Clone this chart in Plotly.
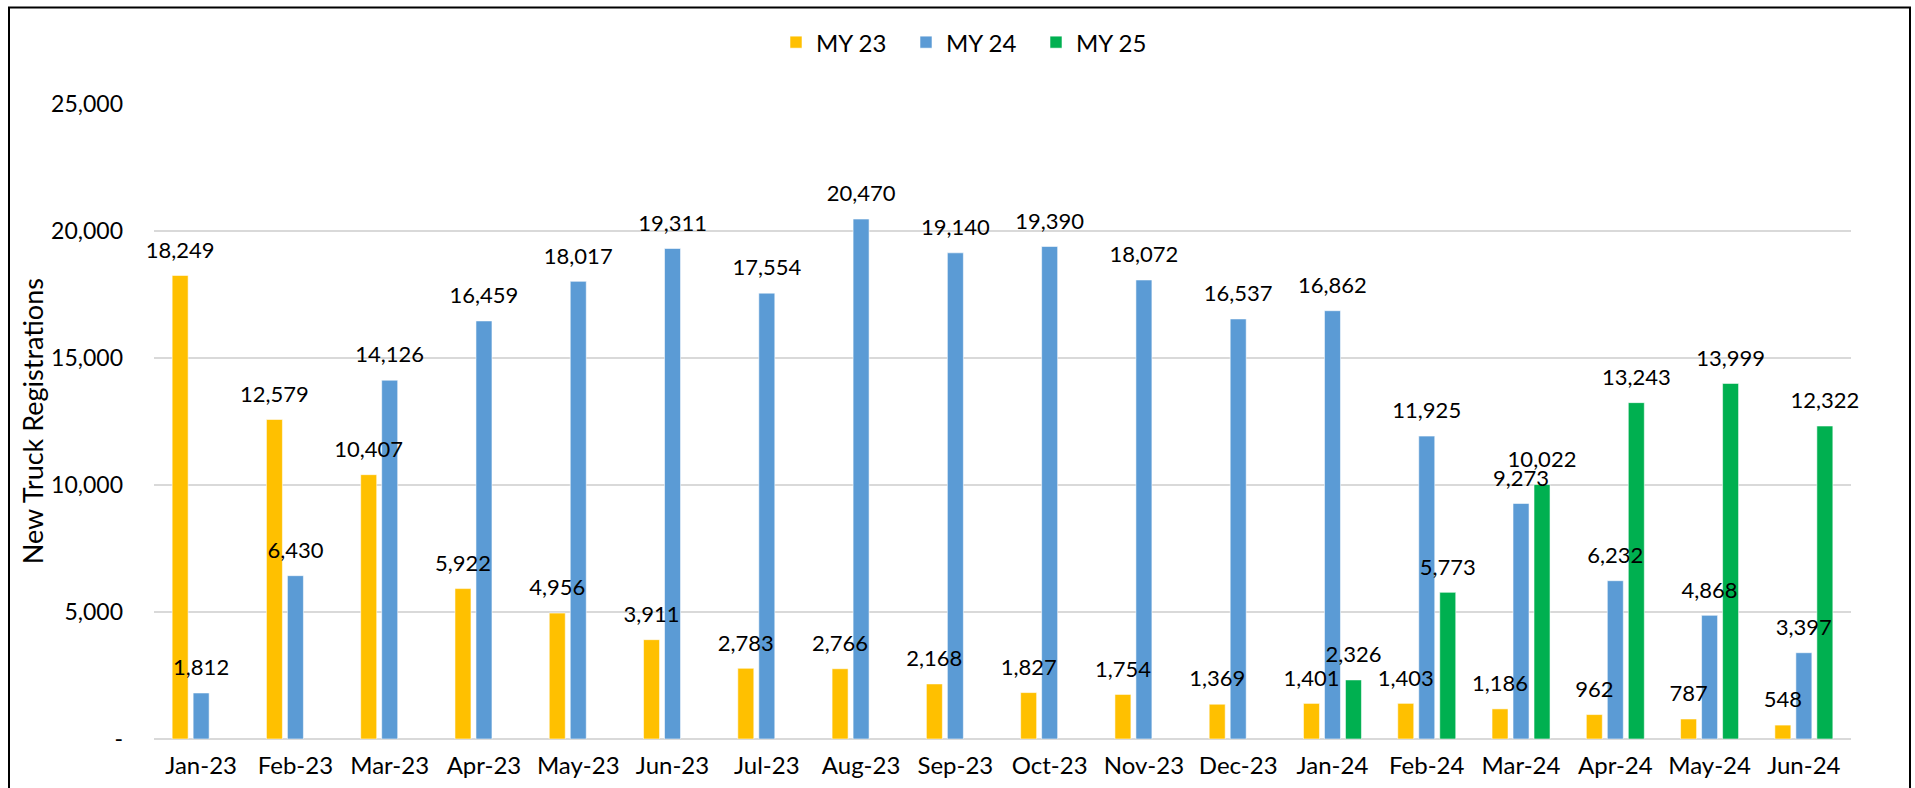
import plotly.graph_objects as go

months = ["Jan-23", "Feb-23", "Mar-23", "Apr-23", "May-23", "Jun-23", "Jul-23", "Aug-23", "Sep-23",
          "Oct-23", "Nov-23", "Dec-23", "Jan-24", "Feb-24", "Mar-24", "Apr-24", "May-24", "Jun-24"]
my23 = [18249, 12579, 10407, 5922, 4956, 3911, 2783, 2766, 2168, 1827, 1754, 1369, 1401, 1403, 1186, 962, 787, 548]
my24 = [1812, 6430, 14126, 16459, 18017, 19311, 17554, 20470, 19140, 19390, 18072, 16537, 16862, 11925, 9273, 6232, 4868, 3397]
my25 = [None] * 12 + [2326, 5773, 10022, 13243, 13999, 12322]
series_names = ["MY 23", "MY 24", "MY 25"]
colors = ["#FFC000", "#5B9BD5", "#00B050"]
y_tickvals = [0, 5000, 10000, 15000, 20000, 25000]
y_ticktext = ["-", "5,000", "10,000", "15,000", "20,000", "25,000"]

FONT = "Lato, 'Open Sans', sans-serif"
FS = 22

fig = go.Figure()
for name, vals, col in zip(series_names, [my23, my24, my25], colors):
    fig.add_trace(go.Bar(x=months, y=vals, name=name, marker_color=col,
                         marker_line=dict(color="rgba(255,255,255,0.55)", width=1),
                         offsetgroup=name))
for name, vals in zip(series_names, [my23, my24, my25]):
    fig.add_trace(go.Scatter(x=months, y=vals, mode="markers+text", showlegend=False,
                             offsetgroup=name, hoverinfo="skip",
                             marker=dict(size=18, opacity=0),
                             text=[None if v is None else f"{v:,}" for v in vals],
                             textposition="top center",
                             textfont=dict(family=FONT, size=FS, color="#000"),
                             cliponaxis=False))

W, H = 1915, 788
L, R, T, B = 154, 1851, 103.5, 739
pw, ph = R - L, B - T

def px_x(x):
    return (x - L) / pw

def px_y(y):
    return (B - y) / ph

fig.update_layout(
    width=W, height=H,
    margin=dict(l=L, r=W - R, t=T, b=H - B, autoexpand=False),
    barmode="group", bargap=0.332, bargroupgap=0.238,
    scattermode="group", scattergap=0.332,
    plot_bgcolor="white", paper_bgcolor="white",
    font=dict(family=FONT, size=FS, color="#000"),
    showlegend=True,
    legend=dict(orientation="h", x=px_x(971), xanchor="center", y=px_y(42), yanchor="middle",
                font=dict(family=FONT, size=24, color="#000"), traceorder="normal",
                entrywidth=85, entrywidthmode="pixels"),
    xaxis=dict(type="category", showgrid=False, showline=False, ticks="",
               tickfont=dict(family=FONT, size=24, color="#000"), ticklabelstandoff=10),
    yaxis=dict(range=[0, 25000], tickvals=y_tickvals, ticktext=y_ticktext,
               showgrid=True, gridcolor="#D9D9D9", gridwidth=1.5,
               zeroline=True, zerolinecolor="#D9D9D9", zerolinewidth=1.5,
               showline=False, ticks="", ticklabelstandoff=30,
               tickfont=dict(family=FONT, size=23, color="#000")),
    annotations=[dict(text="New Truck Registrations", xref="paper", yref="paper",
                      x=px_x(32), y=px_y(421), xanchor="center", yanchor="middle",
                      textangle=-90, showarrow=False,
                      font=dict(family=FONT, size=27, color="#000"))],
    shapes=[dict(type="rect", xref="paper", yref="paper",
                 x0=px_x(9), x1=px_x(1910), y0=px_y(7), y1=px_y(800),
                 line=dict(color="#000", width=2), layer="above")],
)

fig.write_html("out.html", config={"displayModeBar": False},
               post_script="document.body.style.margin='0';document.body.style.overflow='hidden';")
